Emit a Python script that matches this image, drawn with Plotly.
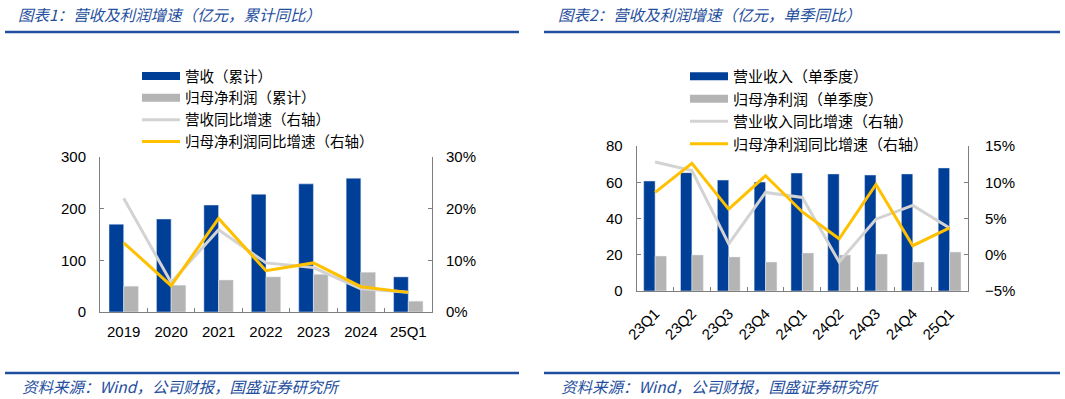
import plotly.graph_objects as go
from plotly.subplots import make_subplots

# ---- data: chart 1 (cumulative) ----
years = ["2019", "2020", "2021", "2022", "2023", "2024", "25Q1"]
rev_cum = [170, 180, 207, 228, 248, 259, 68]
np_cum = [50, 52, 62, 68, 73, 77, 21]
rev_cum_yoy = [0.220, 0.057, 0.159, 0.095, 0.086, 0.045, 0.038]
np_cum_yoy = [0.134, 0.051, 0.181, 0.080, 0.095, 0.049, 0.038]

# ---- data: chart 2 (single quarter) ----
quarters = ["23Q1", "23Q2", "23Q3", "23Q4", "24Q1", "24Q2", "24Q3", "24Q4", "25Q1"]
rev_q = [60.7, 65.3, 61.2, 60.1, 65.1, 64.6, 64.0, 64.6, 67.9]
np_q = [19.3, 19.9, 18.8, 16.0, 21.0, 19.9, 20.4, 16.0, 21.5]
rev_q_yoy = [0.128, 0.116, 0.015, 0.086, 0.079, -0.010, 0.049, 0.068, 0.037]
np_q_yoy = [0.086, 0.126, 0.063, 0.109, 0.059, 0.022, 0.097, 0.0125, 0.037]

names1 = ["营收（累计）", "归母净利润（累计）", "营收同比增速（右轴）", "归母净利润同比增速（右轴）"]
names2 = ["营业收入（单季度）", "归母净利润（单季度）", "营业收入同比增速（右轴）", "归母净利润同比增速（右轴）"]

BLUE = "#003f98"
GREY = "#b4b4b4"
LGREY = "#d3d3d3"
YELLOW = "#ffc000"
TBLUE = "#1f4f9e"
AXC = "#7f7f7f"
FONT = "Liberation Sans, Arial, Noto Sans CJK SC, sans-serif"

W, H = 1065, 399

fig = make_subplots(rows=1, cols=2, specs=[[{"secondary_y": True}, {"secondary_y": True}]])

def add_chart(col, cats, rev, npf, ryoy, nyoy, names, legend):
    fig.add_trace(go.Bar(x=cats, y=rev, marker_color=BLUE, name=names[0], showlegend=False),
                  row=1, col=col, secondary_y=False)
    fig.add_trace(go.Bar(x=cats, y=npf, marker_color=GREY, name=names[1], showlegend=False),
                  row=1, col=col, secondary_y=False)
    fig.add_trace(go.Scatter(x=cats, y=ryoy, mode="lines", line=dict(color=LGREY, width=3),
                             name=names[2], showlegend=False), row=1, col=col, secondary_y=True)
    fig.add_trace(go.Scatter(x=cats, y=nyoy, mode="lines", line=dict(color=YELLOW, width=3),
                             name=names[3], showlegend=False), row=1, col=col, secondary_y=True)
    # legend entries (wide swatches)
    for nm, c, w in zip(names, [BLUE, GREY, LGREY, YELLOW], [8, 8, 3, 3]):
        fig.add_trace(go.Scatter(x=[cats[0]], y=[None], mode="lines", line=dict(color=c, width=w),
                                 name=nm, legend=legend, showlegend=True),
                      row=1, col=col, secondary_y=False)

add_chart(1, years, rev_cum, np_cum, rev_cum_yoy, np_cum_yoy, names1, "legend")
add_chart(2, quarters, rev_q, np_q, rev_q_yoy, np_q_yoy, names2, "legend2")

axis_common = dict(showline=True, linecolor=AXC, linewidth=1, showgrid=False, zeroline=False,
                   ticks="inside", ticklen=4, tickcolor=AXC, tickfont=dict(size=15, color="#000"))

fig.update_layout(
    xaxis=dict(domain=[100 / W, 432 / W], **axis_common, tickson="boundaries",
               ticklabelstandoff=6),
    yaxis=dict(domain=[(H - 312) / H, (H - 157) / H], range=[0, 300], dtick=100,
               ticklabelstandoff=10, **axis_common),
    yaxis2=dict(range=[0, 0.3], dtick=0.1, tickformat=".0%", ticklabelstandoff=10, **axis_common),
    xaxis2=dict(domain=[636.7 / W, 968 / W], **axis_common, tickangle=-45,
                tickson="boundaries", ticklabelstandoff=7),
    yaxis3=dict(domain=[(H - 291) / H, (H - 146) / H], range=[0, 80], dtick=20,
                ticklabelstandoff=10, **axis_common),
    yaxis4=dict(range=[-0.05, 0.15], dtick=0.05, tickformat=".0%", ticklabelstandoff=13,
                **axis_common),
)

fig.update_layout(
    width=W, height=H, margin=dict(l=0, r=0, t=0, b=0, autoexpand=False),
    paper_bgcolor="white", plot_bgcolor="white",
    font=dict(family=FONT, color="#000"),
    barmode="group", bargap=0.38, bargroupgap=0,
    legend=dict(x=137 / W, y=1 - 60 / H, xanchor="left", yanchor="top",
                font=dict(size=14.5), itemwidth=38, bgcolor="rgba(0,0,0,0)",
                tracegroupgap=0),
    legend2=dict(x=685 / W, y=1 - 60 / H, xanchor="left", yanchor="top",
                 font=dict(size=15), itemwidth=38, bgcolor="rgba(0,0,0,0)",
                 tracegroupgap=0),
)

TFONT = dict(size=15.5, color=TBLUE, family="Noto Sans CJK SC", style="italic")
fig.add_annotation(text="图表1：营收及利润增速（亿元，累计同比）", x=16 / W, y=1 - 14 / H,
                   xref="paper", yref="paper", xanchor="left", yanchor="middle", showarrow=False,
                   font=TFONT)
fig.add_annotation(text="图表2：营收及利润增速（亿元，单季同比）", x=556 / W, y=1 - 14 / H,
                   xref="paper", yref="paper", xanchor="left", yanchor="middle", showarrow=False,
                   font=TFONT)
for xs in (20, 559):
    fig.add_annotation(text="资料来源：Wind，公司财报，国盛证券研究所", x=xs / W, y=1 - 386 / H,
                       xref="paper", yref="paper", xanchor="left", yanchor="middle", showarrow=False,
                       font=TFONT)

for x0, x1 in ((5, 519), (544, 1060)):
    for yy in (32, 373):
        fig.add_shape(type="line", xref="paper", yref="paper", x0=x0 / W, x1=x1 / W,
                      y0=1 - yy / H, y1=1 - yy / H, line=dict(color=TBLUE, width=2.5))

fig.write_html("out.html", config={"displayModeBar": False},
               post_script="document.body.style.margin='0';document.body.style.overflow='hidden';")
